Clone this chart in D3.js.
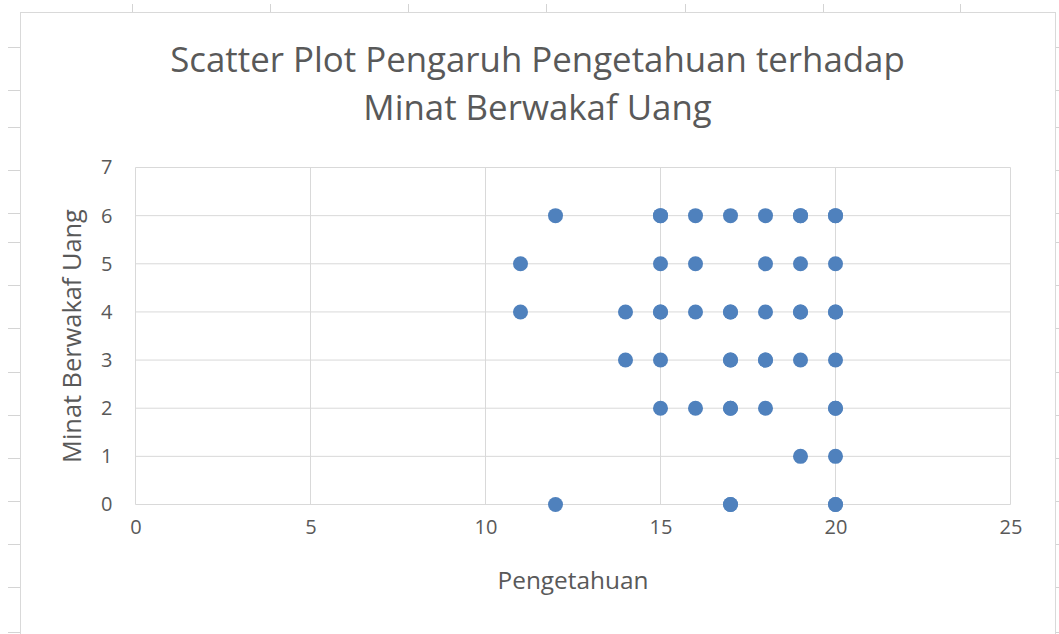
<!DOCTYPE html>
<html>
<head>
<meta charset="utf-8">
<script src="https://cdn.jsdelivr.net/npm/d3@7"></script>
<style>
  body { margin: 0; background: #fff; }
  text { font-family: "Open Sans", sans-serif; fill: #595959; }
</style>
</head>
<body>
<svg id="chart" width="1059" height="634"></svg>
<script>
// Data: (Pengetahuan, Minat Berwakaf Uang)
var pengetahuan = [12, 15, 15, 16, 17, 18, 19, 19, 20, 20,
                   11, 15, 16, 18, 19, 20,
                   11, 14, 15, 15, 16, 17, 17, 18, 19, 19, 20, 20,
                   14, 15, 17, 17, 18, 18, 19, 20,
                   15, 16, 17, 17, 18, 20, 20,
                   19, 20,
                   12, 17, 17, 20, 20];
var minat = [6, 6, 6, 6, 6, 6, 6, 6, 6, 6,
             5, 5, 5, 5, 5, 5,
             4, 4, 4, 4, 4, 4, 4, 4, 4, 4, 4, 4,
             3, 3, 3, 3, 3, 3, 3, 3,
             2, 2, 2, 2, 2, 2, 2,
             1, 1,
             0, 0, 0, 0, 0];
var xTicks = [0, 5, 10, 15, 20, 25];
var yTicks = [0, 1, 2, 3, 4, 5, 6, 7];
var titleLines = ["Scatter Plot Pengaruh Pengetahuan terhadap", "Minat Berwakaf Uang"];

// Set dimensions
var width = 1059,
    height = 634;
var plot = { left: 135.5, right: 1010.5, top: 167.5, bottom: 504.5 };

var svg = d3.select("#chart");

// sheet gridline stubs behind the chart
var sheetCols = [132, 270, 408, 546, 685, 823, 960];
var sheetRows = [47, 90, 127, 170, 213, 242, 285, 328, 372, 415, 458, 501, 544, 587, 632];
svg.append("g").selectAll("line").data(sheetCols).enter().append("line")
    .attr("x1", d => d + 0.5).attr("x2", d => d + 0.5)
    .attr("y1", 4).attr("y2", 12)
    .attr("stroke", "#d4d4d4");
svg.append("g").selectAll("line").data(sheetRows).enter().append("line")
    .attr("x1", 8).attr("x2", 20)
    .attr("y1", d => d + 0.5).attr("y2", d => d + 0.5)
    .attr("stroke", "#d4d4d4");
svg.append("g").selectAll("line").data(sheetRows).enter().append("line")
    .attr("x1", 1056).attr("x2", 1059)
    .attr("y1", d => d + 0.5).attr("y2", d => d + 0.5)
    .attr("stroke", "#d4d4d4");

// chart area
svg.append("rect")
    .attr("x", 20.5).attr("y", 12.5)
    .attr("width", 1035).attr("height", 630)
    .attr("fill", "#fff")
    .attr("stroke", "#d9d9d9");

// Scales
var x = d3.scaleLinear().domain([0, 25]).range([plot.left, plot.right]);
var y = d3.scaleLinear().domain([0, 7]).range([plot.bottom, plot.top]);

// Gridlines
var grid = svg.append("g").attr("stroke", "#d9d9d9").attr("stroke-width", 1);
grid.selectAll("line.h").data(yTicks).enter().append("line")
    .attr("class", "h")
    .attr("x1", plot.left).attr("x2", plot.right)
    .attr("y1", d => y(d)).attr("y2", d => y(d));
grid.selectAll("line.v").data(xTicks).enter().append("line")
    .attr("class", "v")
    .attr("x1", d => x(d)).attr("x2", d => x(d))
    .attr("y1", plot.top).attr("y2", plot.bottom);

// Axes (labels only, Excel style)
var xAxis = svg.append("g")
    .attr("transform", "translate(0," + plot.bottom + ")")
    .call(d3.axisBottom(x).tickValues(xTicks).tickFormat(d3.format("d")).tickSize(0).tickPadding(20));
xAxis.select(".domain").remove();
xAxis.selectAll("text").style("font-size", "20px").attr("fill", "#595959")
    .attr("dy", "0.45em");

var yAxis = svg.append("g")
    .attr("transform", "translate(" + plot.left + ",0)")
    .call(d3.axisLeft(y).tickValues(yTicks).tickFormat(d3.format("d")).tickSize(0).tickPadding(23));
yAxis.select(".domain").remove();
yAxis.selectAll("text").style("font-size", "20px").attr("fill", "#595959");

// Points
var points = pengetahuan.map(function(d, i) { return { x: d, y: minat[i] }; });
svg.append("g").selectAll("circle")
    .data(points)
    .enter()
    .append("circle")
    .attr("cx", d => x(d.x))
    .attr("cy", d => y(d.y))
    .attr("r", 7.5)
    .attr("fill", "#4f81bd");

// fit text to a target width
function fit(sel, target) {
    var w = sel.node().getComputedTextLength();
    var fs = parseFloat(sel.style("font-size"));
    sel.style("font-size", (fs * target / w) + "px");
}

// Title
var t1 = svg.append("text")
    .attr("x", 537.5).attr("y", 72)
    .attr("text-anchor", "middle")
    .style("font-size", "34px")
    .text(titleLines[0]);
fit(t1, 735);
svg.append("text")
    .attr("x", 537.5).attr("y", 120)
    .attr("text-anchor", "middle")
    .style("font-size", t1.style("font-size"))
    .text(titleLines[1]);

// Axis titles
var xt = svg.append("text")
    .attr("x", (plot.left + plot.right) / 2).attr("y", 589)
    .attr("text-anchor", "middle")
    .style("font-size", "23px")
    .text("Pengetahuan");
fit(xt, 151);

var yt = svg.append("text")
    .attr("transform", "translate(81," + ((plot.top + plot.bottom) / 2) + ")rotate(-90)")
    .attr("text-anchor", "middle")
    .style("font-size", "23px")
    .text("Minat Berwakaf Uang");
fit(yt, 254);
</script>
</body>
</html>
